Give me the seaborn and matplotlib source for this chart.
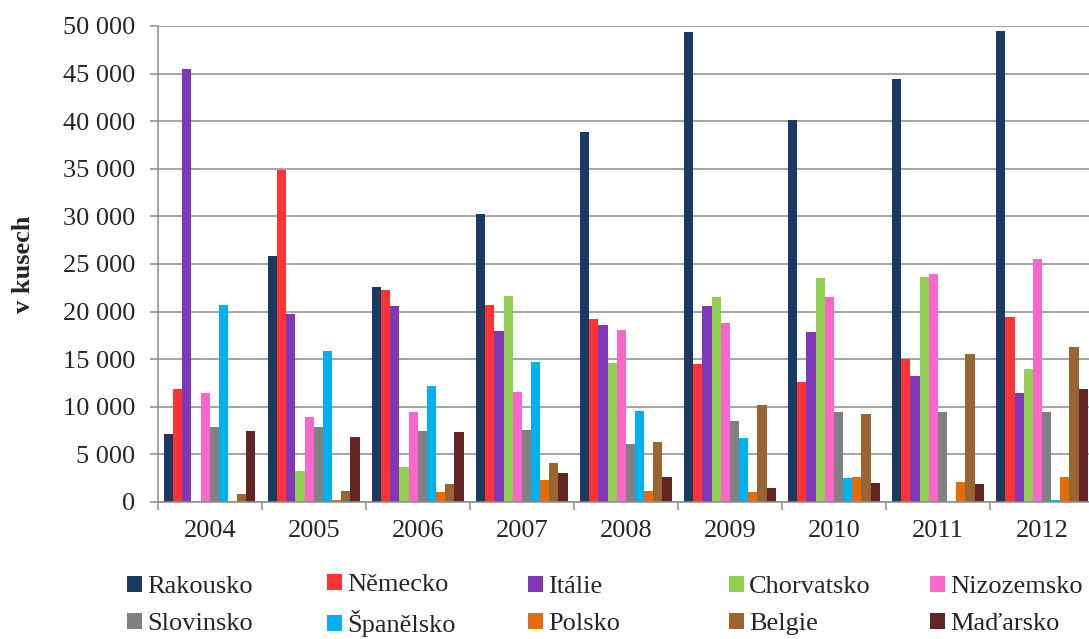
import matplotlib
matplotlib.use("Agg")
import matplotlib.pyplot as plt
from matplotlib.patches import Patch
from matplotlib.ticker import FuncFormatter, FixedLocator
import seaborn as sns
import pandas as pd

# data, pieces per year
roky = ["2004", "2005", "2006", "2007", "2008", "2009", "2010", "2011", "2012"]
zeme = ["Rakousko", "Německo", "Itálie", "Chorvatsko", "Nizozemsko",
        "Slovinsko", "Španělsko", "Polsko", "Belgie", "Maďarsko"]

rakousko = [7100, 25800, 22600, 30200, 38900, 49400, 40100, 44400, 49500]
nemecko = [11900, 34900, 22300, 20700, 19200, 14500, 12600, 15000, 19400]
italie = [45500, 19700, 20600, 18000, 18600, 20600, 17900, 13200, 11500]
chorvatsko = [0, 3300, 3700, 21600, 14600, 21500, 23500, 23600, 14000]
nizozemsko = [11500, 8900, 9500, 11600, 18100, 18800, 21500, 24000, 25500]
slovinsko = [7900, 7900, 7500, 7600, 6100, 8500, 9500, 9500, 9500]
spanelsko = [20700, 15900, 12200, 14700, 9600, 6700, 2500, 0, 200]
polsko = [0, 200, 1000, 2300, 1200, 1100, 2600, 2100, 2600]
belgie = [800, 1200, 1900, 4100, 6300, 10200, 9200, 15500, 16300]
madarsko = [7500, 6800, 7400, 3000, 2600, 1500, 2000, 1900, 11900]

barvy = ["#1b3a63", "#ff3333", "#7f39b8", "#92d050", "#ff66cc",
         "#808080", "#00b0f0", "#e46c0a", "#996633", "#632523"]

serie = [rakousko, nemecko, italie, chorvatsko, nizozemsko,
         slovinsko, spanelsko, polsko, belgie, madarsko]
rows = []
for z, vals in zip(zeme, serie):
    for r, v in zip(roky, vals):
        rows.append({"rok": r, "zeme": z, "kusy": v})
df = pd.DataFrame(rows)

sns.set_style("white")
plt.rcParams["font.family"] = ["Liberation Serif", "DejaVu Serif"]
FS = 19
GRID = "#8c8c8c"

fig = plt.figure(figsize=(10.89, 6.39), dpi=100)
ax = fig.add_axes([157.7 / 1089, 137 / 639, 936.3 / 1089, 476 / 639])

sns.barplot(data=df, x="rok", y="kusy", hue="zeme", hue_order=zeme,
            order=roky, palette=barvy, saturation=1, width=0.88,
            errorbar=None, linewidth=0, legend=False, ax=ax)

ax.set_ylim(0, 50000)
ax.set_xlim(-0.5, len(roky) - 0.5)
ax.set_yticks(range(0, 50001, 5000))
ax.yaxis.set_major_formatter(FuncFormatter(lambda v, p: f"{v:,.0f}".replace(",", " ")))
ax.grid(axis="y", color=GRID, linewidth=1.1)
ax.set_axisbelow(True)

for s in ["top", "right"]:
    ax.spines[s].set_visible(False)
for s in ["left", "bottom"]:
    ax.spines[s].set_color(GRID)
    ax.spines[s].set_linewidth(1.1)

ax.tick_params(axis="y", direction="out", length=6, width=1.1, color=GRID,
               left=True, pad=10, labelsize=FS)
ax.tick_params(axis="x", which="major", length=0, pad=13, labelsize=FS)
ax.xaxis.set_minor_locator(FixedLocator([i - 0.5 for i in range(len(roky) + 1)]))
ax.tick_params(axis="x", which="minor", direction="out", length=6, width=1.1,
               color=GRID, bottom=True)

ax.set_xlabel("")
ax.set_ylabel("v kusech", fontsize=FS, fontweight="bold", labelpad=20)

# legend: five columns, two rows, at the positions in the original
xs = [127, 327, 528, 729, 930]
for i, x in enumerate(xs):
    hs = [Patch(facecolor=barvy[i], edgecolor="none"),
          Patch(facecolor=barvy[i + 5], edgecolor="none")]
    fig.legend(hs, [zeme[i], zeme[i + 5]], loc="center left",
               bbox_to_anchor=(x / 1089, 1 - 605.5 / 639), frameon=False,
               fontsize=FS, handlelength=0.55, handleheight=0.55,
               handletextpad=0.2, labelspacing=0.55, borderpad=0,
               borderaxespad=0)

fig.savefig("out.png", dpi=100)
